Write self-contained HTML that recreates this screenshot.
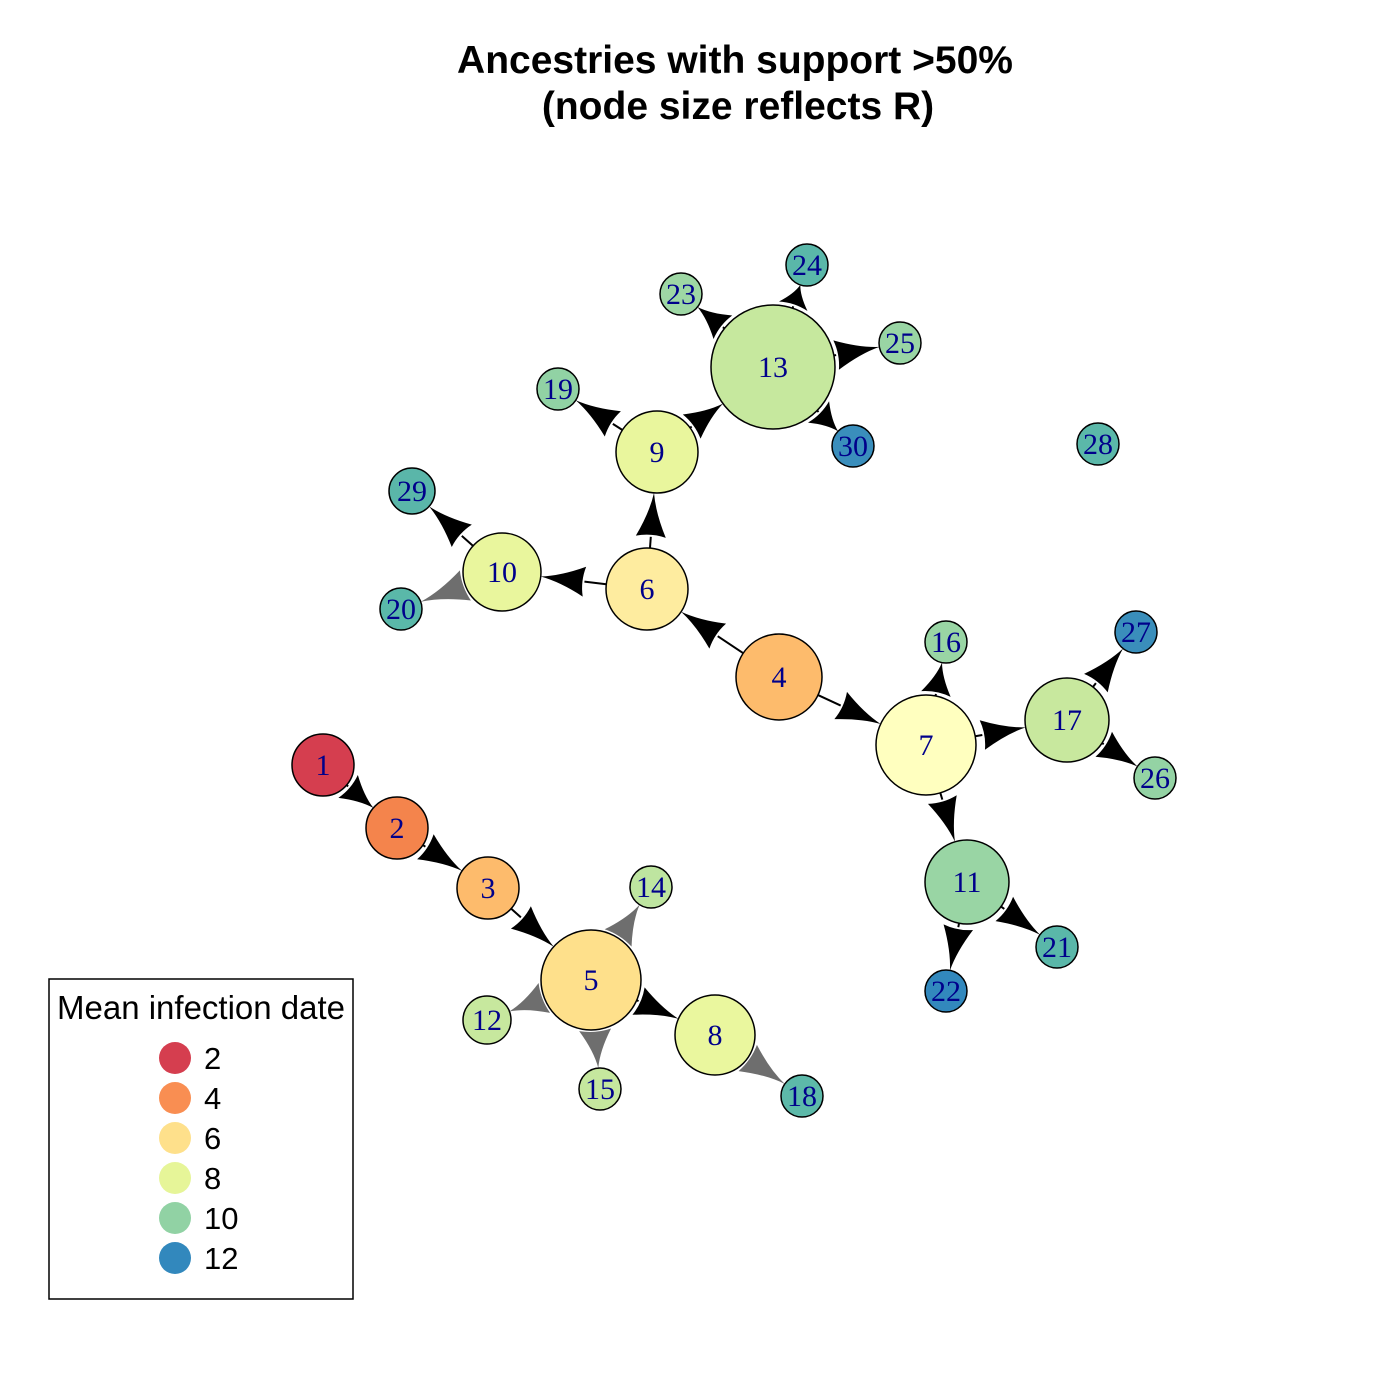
<!DOCTYPE html>
<html><head><meta charset="utf-8"><style>
html,body{margin:0;padding:0;background:#fff;}
svg{display:block;}
</style></head><body>
<svg id="chart" width="1400" height="1400" viewBox="0 0 1400 1400" xmlns="http://www.w3.org/2000/svg">
<rect width="1400" height="1400" fill="#fff"/>
<text x="735" y="73" text-anchor="middle" font-family="Liberation Sans, sans-serif" font-weight="bold" font-size="39">Ancestries with support &gt;50%</text>
<text x="738" y="119" text-anchor="middle" font-family="Liberation Sans, sans-serif" font-weight="bold" font-size="39">(node size reflects R)</text>
<g id="edges"></g>
<g id="nodes"></g>
<g>
<rect x="49" y="979" width="304" height="320" fill="#fff" stroke="#000" stroke-width="1.5"/>
<text x="57" y="1019" font-family="Liberation Sans, sans-serif" font-size="33">Mean infection date</text>
<g id="legend-entries"></g>
</g>
</svg>
<script>
const nodeIds = [1,2,3,4,5,6,7,8,9,10,11,12,13,14,15,16,17,18,19,20,21,22,23,24,25,26,27,28,29,30];
const nodeX = [323,397,488,779,591,647,926,715,657,502,967,487,773,651,600,946,1067,802,558,401,1057,946,681,807,900,1155,1136,1098,412,853];
const nodeY = [765,828,888,677,980,589,745,1035,452,572,882,1020,367,887,1089,642,720,1096,389,609,947,991,294,265,343,778,632,444,491,446];
const nodeR = [31,31,31,43,50,41,50,40,41,39,42,24,62,21,21,21,42,21,21,21,21,21,21,21,21,21,21,21,23,21];
const nodeColor = ['#D53E4F','#F4844C','#FDBB6C','#FDBB6C','#FEE08B','#FEEC9F','#FFFFBF','#EAF79E','#E9F69D','#E9F69D','#99D5A4','#C7E89E','#C6E89E','#BEE5A0','#C5E79E','#99D5A4','#C8E89E','#5DB9A9','#91D2A4','#5AB8A9','#5AB7A9','#3288BD','#9ED7A4','#5AB7A9','#99D5A4','#94D3A4','#3A8EBB','#5BB8A9','#5AB6A9','#3A8EBC'];
const edgeFrom = [1,2,3,5,5,5,5,8,6,9,9,13,13,13,13,6,10,10,4,4,7,7,17,17,7,11,11];
const edgeTo   = [2,3,5,8,14,12,15,18,9,13,19,23,24,25,30,10,29,20,6,7,16,17,27,26,11,21,22];
const edgeGrey = [0,0,0,0,1,1,1,1,0,0,0,0,0,0,0,0,0,1,0,0,0,0,0,0,0,0,0];
const legendLabels = ['2','4','6','8','10','12'];
const legendColors = ['#D53E4F','#F98E52','#FEE08B','#E6F598','#91D2A4','#3288BD'];

const NS='http://www.w3.org/2000/svg';
const eg=document.getElementById('edges'), ng=document.getElementById('nodes'), lg=document.getElementById('legend-entries');
function idx(id){return nodeIds.indexOf(id);}
for(let k=0;k<edgeFrom.length;k++){
  const a=idx(edgeFrom[k]), b=idx(edgeTo[k]);
  const dx=nodeX[b]-nodeX[a], dy=nodeY[b]-nodeY[a], d=Math.hypot(dx,dy);
  const ux=dx/d, uy=dy/d, px=-uy, py=ux;
  const sx=nodeX[a]+ux*nodeR[a], sy=nodeY[a]+uy*nodeR[a];
  const tx=nodeX[b]-ux*nodeR[b], ty=nodeY[b]-uy*nodeR[b];
  const gap=Math.hypot(tx-sx,ty-sy);
  const col=edgeGrey[k]?'#6e6e6e':'#000';
  const g=document.createElementNS(NS,'g');
  
  
  let len = edgeGrey[k] ? gap : Math.min(gap-2, 44);
  const bx=tx-ux*len, by=ty-uy*len;
  if(gap-len>1){
    const ln=document.createElementNS(NS,'line');
    ln.setAttribute('x1',sx);ln.setAttribute('y1',sy);ln.setAttribute('x2',bx);ln.setAttribute('y2',by);
    ln.setAttribute('stroke',col);ln.setAttribute('stroke-width','2');
    g.appendChild(ln);
  }
  const w=edgeGrey[k]?16:15;
  const lx=bx+px*w, ly=by+py*w, rx=bx-px*w, ry=by-py*w;
  const cx1=bx+ux*len*0.55+px*3, cy1=by+uy*len*0.55+py*3;
  const cx2=bx+ux*len*0.55-px*3, cy2=by+uy*len*0.55-py*3;
  const p=document.createElementNS(NS,'path');
  p.setAttribute('d',`M${lx},${ly} Q${cx1},${cy1} ${tx},${ty} Q${cx2},${cy2} ${rx},${ry} Q${bx+ux*4},${by+uy*4} ${lx},${ly}Z`);
  p.setAttribute('fill',col);
  g.appendChild(p);
  eg.appendChild(g);
}
for(let i=0;i<nodeIds.length;i++){
  const g=document.createElementNS(NS,'g');
  
  
  const c=document.createElementNS(NS,'circle');
  c.setAttribute('cx',nodeX[i]);c.setAttribute('cy',nodeY[i]);c.setAttribute('r',nodeR[i]);
  c.setAttribute('fill',nodeColor[i]);c.setAttribute('stroke','#000');c.setAttribute('stroke-width','1.5');
  g.appendChild(c);
  const t=document.createElementNS(NS,'text');
  t.setAttribute('x',nodeX[i]);t.setAttribute('y',nodeY[i]+10);
  t.setAttribute('text-anchor','middle');
  t.setAttribute('font-family','Liberation Serif, serif');
  t.setAttribute('font-size','30');
  t.setAttribute('fill','#00008B');
  t.textContent=nodeIds[i];
  g.appendChild(t);
  ng.appendChild(g);
}
for(let i=0;i<legendLabels.length;i++){
  const y=1058+40*i;
  const c=document.createElementNS(NS,'circle');
  
  
  c.setAttribute('cx',175);c.setAttribute('cy',y);c.setAttribute('r',16);c.setAttribute('fill',legendColors[i]);
  lg.appendChild(c);
  const t=document.createElementNS(NS,'text');
  
  
  t.setAttribute('x',204);t.setAttribute('y',y+11);
  t.setAttribute('font-family','Liberation Sans, sans-serif');t.setAttribute('font-size','31');
  t.textContent=legendLabels[i];
  lg.appendChild(t);
}
</script>
</body></html>
